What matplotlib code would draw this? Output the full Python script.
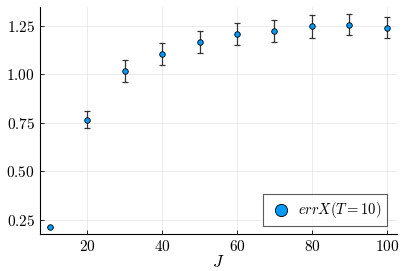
import numpy as np
import matplotlib.pyplot as plt
from matplotlib.ticker import FuncFormatter

plt.rcParams['mathtext.fontset'] = 'cm'
plt.rcParams['font.family'] = 'serif'

# data
J = [10, 20, 30, 40, 50, 60, 70, 80, 90, 100]
errX = [0.214, 0.767, 1.018, 1.105, 1.167, 1.209, 1.224, 1.248, 1.257, 1.241]
err = [0.0, 0.046, 0.055, 0.056, 0.055, 0.055, 0.056, 0.058, 0.055, 0.055]

fig = plt.figure(figsize=(4.07, 2.71), dpi=100)
ax = fig.add_axes([0.098, 0.1376, 0.877, 0.835])

ax.errorbar(J, errX, yerr=err, fmt='none', ecolor='#333333', elinewidth=0.9,
            capsize=2.5, capthick=0.9, zorder=2)
ax.scatter(J, errX, s=16, color='#009AFA', edgecolors='black', linewidths=0.6,
           zorder=3, label='$errX(T=10)$')

ax.set_xlim(7.3, 102.7)
ax.set_ylim(0.177, 1.346)
ax.set_xticks([20, 40, 60, 80, 100])
ax.set_yticks([0.25, 0.50, 0.75, 1.00, 1.25])
ax.xaxis.set_major_formatter(FuncFormatter(lambda v, p: f'${v:.0f}$'))
ax.yaxis.set_major_formatter(FuncFormatter(lambda v, p: f'${v:.2f}$'))
ax.tick_params(direction='in', length=3, width=0.6, labelsize=11, colors='black')
ax.grid(True, color='#e8e8e8', linewidth=0.6)
ax.set_axisbelow(True)
for s in ['top', 'right']:
    ax.spines[s].set_visible(False)
for s in ['left', 'bottom']:
    ax.spines[s].set_linewidth(0.8)
ax.set_xlabel('$J$', fontsize=12, labelpad=0)

leg = ax.legend(loc='lower right', fontsize=10.5, fancybox=False, edgecolor='#333333',
                markerscale=2.2, handletextpad=0.35, borderpad=0.4,
                handlelength=1.6, borderaxespad=0,
                bbox_to_anchor=(0.972, 0.034))
leg.get_frame().set_linewidth(0.8)

fig.savefig('out.png', dpi=100)
